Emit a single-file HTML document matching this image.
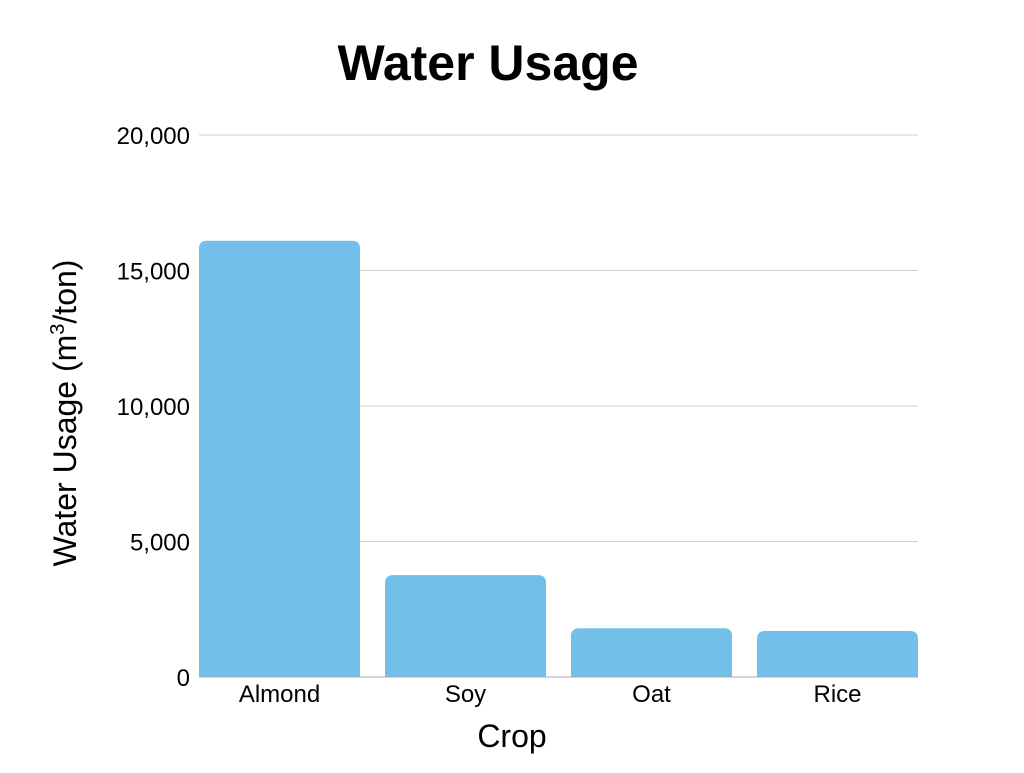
<!DOCTYPE html>
<html><head><meta charset="utf-8"><style>
body{margin:0;background:#fff;}
svg text{font-family:"Liberation Sans",sans-serif;}
</style></head><body>
<svg width="1024" height="768" id="chart">
<text x="488" y="80" text-anchor="middle" font-size="50" font-weight="bold" fill="#000">Water Usage</text>
<g id="grid"></g><g id="bars"></g><g id="yt"></g><g id="xt"></g>
<line x1="199" x2="918" y1="677" y2="677" stroke="#aaa" stroke-width="1"/>
<text x="512" y="747" text-anchor="middle" font-size="32" fill="#000">Crop</text>
<text transform="translate(76,413) rotate(-90)" text-anchor="middle" font-size="32" fill="#000">Water Usage (m<tspan font-size="20" dy="-12">3</tspan><tspan dy="12">/ton)</tspan></text>
</svg>
<script>
const categories=["Almond","Soy","Oat","Rice"];
const values=[16100,3760,1800,1700];
const yTicks=[0,5000,10000,15000,20000];
const tickLabels=["0","5,000","10,000","15,000","20,000"];
const NS="http://www.w3.org/2000/svg";
const x0=199,x1=918,yBase=677,yTop=135,yMax=20000;
const y=v=>yBase-(v/yMax)*(yBase-yTop);
const band=(x1-x0)/categories.length,pad=(band-161)/2;
const g=document.getElementById('grid'),b=document.getElementById('bars'),yt=document.getElementById('yt'),xt=document.getElementById('xt');
yTicks.forEach((t,i)=>{
 if(t>0){const l=document.createElementNS(NS,'line');
 
 
 l.setAttribute('x1',x0);l.setAttribute('x2',x1);l.setAttribute('y1',y(t));l.setAttribute('y2',y(t));
 l.setAttribute('stroke','#d0d0d0');g.appendChild(l);}
 const tx=document.createElementNS(NS,'text');
 
 
 tx.setAttribute('x',190);tx.setAttribute('y',y(t)+9);tx.setAttribute('text-anchor','end');tx.setAttribute('font-size','24');
 tx.textContent=tickLabels[i];yt.appendChild(tx);
});
categories.forEach((c,i)=>{
 const bx=x0+i*band+pad*(i===0?0:1)+ (i===0?0:0);
 const left=x0+i*(band+ (i===0?0:0)) + (i*0);
 const xs=x0+i*band+ (band-161)*i/(categories.length-1)*0 + i*(band-161)/ (1) * 0;
 const X=x0+i*186, w=161, top=y(values[i]), r=8;
 const p=document.createElementNS(NS,'path');
 
 
 p.setAttribute('d',`M${X},${yBase}V${top+r}Q${X},${top} ${X+r},${top}H${X+w-r}Q${X+w},${top} ${X+w},${top+r}V${yBase}Z`);
 p.setAttribute('fill','#72bfe9');b.appendChild(p);
 const tx=document.createElementNS(NS,'text');
 
 
 tx.setAttribute('x',X+w/2);tx.setAttribute('y',702);tx.setAttribute('text-anchor','middle');tx.setAttribute('font-size','24');
 tx.textContent=c;xt.appendChild(tx);
});
</script>
</body></html>
